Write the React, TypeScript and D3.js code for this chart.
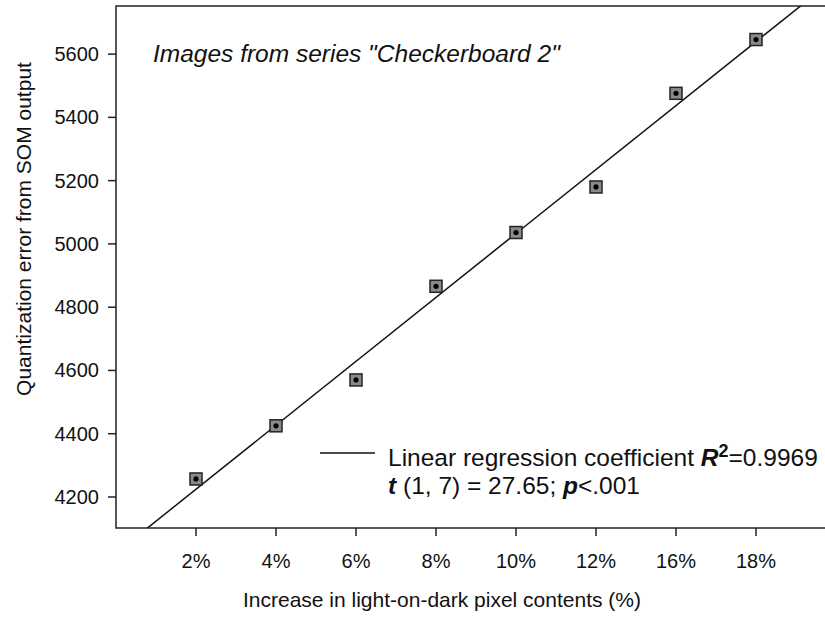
import React from "react";
import * as d3 from "d3";

const WIDTH = 825;
const HEIGHT = 617;
const FONT = "'Liberation Sans', Arial, sans-serif";

// categories on the x axis (equally spaced)
const categories = ["2%", "4%", "6%", "8%", "10%", "12%", "16%", "18%"];
const quantError = [4257, 4425, 4570, 4866, 5036, 5180, 5476, 5646];
const yTicks = [4200, 4400, 4600, 4800, 5000, 5200, 5400, 5600];

const PLOT = { left: 116, top: 6, bottom: 528, right: 836 };

const App = () => {
  const xScale = d3.scaleLinear().domain([-1, 8]).range([PLOT.left, PLOT.right]);
  const yScale = d3.scaleLinear().domain([4102, 5752]).range([PLOT.bottom, PLOT.top]);

  // least-squares fit on category index
  const idx = categories.map((_, i) => i);
  const mx = d3.mean(idx) as number;
  const my = d3.mean(quantError) as number;
  const slope =
    d3.sum(idx, (i) => (i - mx) * (quantError[i] - my)) /
    d3.sum(idx, (i) => (i - mx) ** 2);
  const intercept = my - slope * mx;
  const fitX = [-1, 8];
  const line = d3
    .line<number>()
    .x((i) => xScale(i))
    .y((i) => yScale(intercept + slope * i));

  const MARK = 12;

  return (
    <svg
      width={WIDTH}
      height={HEIGHT}
      style={{ position: "absolute", left: 0, top: 0, background: "#fff" }}
      fontFamily={FONT}
    >
      <defs>
        <clipPath id="plotClip">
          <rect
            x={PLOT.left}
            y={PLOT.top}
            width={PLOT.right - PLOT.left}
            height={PLOT.bottom - PLOT.top}
          />
        </clipPath>
      </defs>

      {/* frame */}
      <rect
        x={PLOT.left}
        y={PLOT.top}
        width={PLOT.right - PLOT.left}
        height={PLOT.bottom - PLOT.top}
        fill="none"
        stroke="#222"
        strokeWidth={1.5}
      />

      {/* y axis ticks */}
      {yTicks.map((t) => (
        <g key={t} transform={`translate(0,${yScale(t)})`}>
          <line x1={PLOT.left - 8} x2={PLOT.left} stroke="#222" strokeWidth={1.5} />
          <text x={PLOT.left - 17} dy="0.35em" textAnchor="end" fontSize={20} fill="#111">
            {t}
          </text>
        </g>
      ))}

      {/* x axis ticks */}
      {categories.map((c, i) => (
        <g key={c} transform={`translate(${xScale(i)},0)`}>
          <line y1={PLOT.bottom} y2={PLOT.bottom + 8} stroke="#222" strokeWidth={1.5} />
          <text y={PLOT.bottom + 40} textAnchor="middle" fontSize={20} fill="#111">
            {c}
          </text>
        </g>
      ))}

      {/* axis titles */}
      <text x={442} y={607} textAnchor="middle" fontSize={21} fill="#111">
        Increase in light-on-dark pixel contents (%)
      </text>
      <text
        transform={`translate(31,229) rotate(-90)`}
        textAnchor="middle"
        fontSize={21}
        fill="#111"
      >
        Quantization error from SOM output
      </text>

      {/* title */}
      <text x={153} y={62} fontSize={24.5} fontStyle="italic" fill="#111">
        Images from series "Checkerboard 2"
      </text>

      {/* regression line */}
      <path
        d={line(fitX) ?? ""}
        fill="none"
        stroke="#111"
        strokeWidth={1.5}
        clipPath="url(#plotClip)"
      />

      {/* points */}
      {quantError.map((v, i) => (
        <g key={i} transform={`translate(${xScale(i)},${yScale(v)})`}>
          <rect
            x={-MARK / 2}
            y={-MARK / 2}
            width={MARK}
            height={MARK}
            fill="#8a8a8a"
            stroke="#222"
            strokeWidth={1.5}
          />
          <circle r={2.6} fill="#000" />
        </g>
      ))}

      {/* legend */}
      <line x1={320} x2={375} y1={453} y2={453} stroke="#111" strokeWidth={1.5} />
      <text x={388} y={466} fontSize={24.5} fill="#111">
        Linear regression coefficient{" "}
        <tspan fontWeight="bold" fontStyle="italic">R</tspan>
        <tspan fontWeight="bold" fontSize={18} dy={-9}>2</tspan>
        <tspan dy={9}>=0.9969</tspan>
      </text>
      <text x={388} y={494} fontSize={24.5} fill="#111">
        <tspan fontWeight="bold" fontStyle="italic">t</tspan>
        {" (1, 7) = 27.65; "}
        <tspan fontWeight="bold" fontStyle="italic">p</tspan>
        {"<.001"}
      </text>
    </svg>
  );
};

export default App;
